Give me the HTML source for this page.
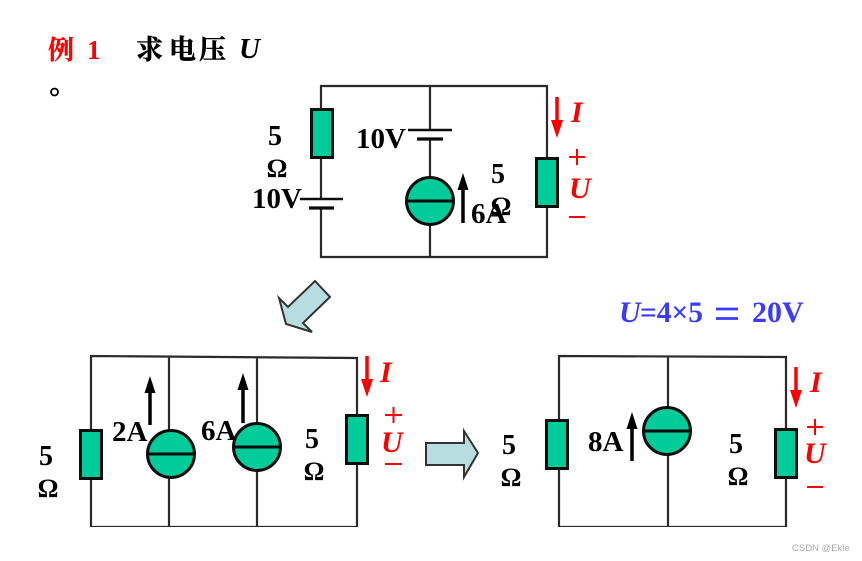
<!DOCTYPE html>
<html><head><meta charset="utf-8"><style>
html,body{margin:0;padding:0;background:#fff;width:862px;height:561px;overflow:hidden}
svg{display:block}
text{font-family:"Liberation Serif","Noto Serif CJK SC",serif;font-weight:bold;fill:#000}
.l{font-size:28px}
.o{font-size:26px}
.r{fill:#f00;font-style:italic;font-size:30px}
.w{stroke:#2a2a2a;stroke-width:2.2;fill:none}
.p{stroke:#f00;stroke-width:2;fill:none}
.g{fill:#00cc99;stroke:#111;stroke-width:3}
.b{stroke:#111;stroke-width:2.6;fill:none}
.big{fill:#b7dde0;stroke:#333;stroke-width:2}
.h{stroke:#000;stroke-width:.5px}
</style></head><body>
<svg width="862" height="561" viewBox="0 0 862 561" xmlns="http://www.w3.org/2000/svg">
<defs><filter id="s" x="0" y="0" width="100%" height="100%"><feGaussianBlur stdDeviation="0.35"/></filter></defs>
<g filter="url(#s)">
<!-- header -->
<text x="48" y="59" font-size="26" style="fill:#f00;stroke:#f00;stroke-width:.4px">例</text>
<text x="87" y="59" font-size="27" style="fill:#f00">1</text>
<text class="h" x="136" y="59" font-size="27">求</text>
<text class="h" x="169" y="59" font-size="27">电</text>
<text class="h" x="199" y="59" font-size="27">压</text>
<text x="239" y="58" font-size="29" font-style="italic">U</text>
<circle cx="54.500" cy="92" r="3.500" fill="none" stroke="#000" stroke-width="1.800"/>

<!-- top circuit -->
<path class="w" d="M321 109V86H547V158M547 207V257H321V208M321 199V158M430 86V130M430 139V177M430 225V257"/>
<rect class="g" x="311.500" y="109.500" width="21" height="48"/>
<rect class="g" x="536.500" y="158.500" width="21" height="48"/>
<path class="b" d="M300 199H343M408 130H452"/>
<path d="M309 208H334M417 139H443" stroke="#111" stroke-width="3.200" fill="none"/>
<circle class="g" cx="430" cy="201" r="23.500"/>
<path class="b" d="M406 201H454" style="stroke-width:3"/>
<path d="M463 223V186" stroke="#000" stroke-width="3.500"/>
<path d="M463 173L457.500 190H468.500Z" fill="#000"/>
<text class="l" x="275" y="145" text-anchor="middle">5</text>
<text class="o" x="277" y="177" text-anchor="middle">Ω</text>
<text x="356" y="148" style="font-size:29px">10V</text>
<text x="252" y="208" style="font-size:29px">10V</text>
<text class="l" x="498" y="183" text-anchor="middle">5</text>
<text class="o" x="501" y="215" text-anchor="middle">Ω</text>
<text x="471" y="223" style="font-size:29px">6A</text>
<path d="M557 97V124" stroke="#f00" stroke-width="3.500"/>
<path d="M557 138L551 120H563Z" fill="#f00"/>
<text class="r" x="571" y="122">I</text>
<path class="p" d="M569 157H585M577 149V165M569 217H585"/>
<text class="r" x="569" y="198">U</text>

<!-- arrow 1 -->
<polygon class="big" points="315,281 330,297 303,323 312,332 286,324 279,298 288,307"/>

<!-- bottom-left circuit -->
<path class="w" d="M91 430V356L357 358V415M357 464V527H91V479M169 357V432M169 478V527M257 358V423M257 471V527"/>
<rect class="g" x="80.500" y="430.500" width="21" height="48"/>
<rect class="g" x="346.500" y="415.500" width="21" height="48"/>
<circle class="g" cx="171" cy="454" r="23.500"/>
<path class="b" d="M146 454H195" style="stroke-width:3"/>
<circle class="g" cx="257" cy="447" r="23.500"/>
<path class="b" d="M233 447H282" style="stroke-width:3"/>
<path d="M150 425V389M243 423V386" stroke="#000" stroke-width="3.500"/>
<path d="M150 376L144.500 393H155.500ZM243 373L237.500 390H248.500Z" fill="#000"/>
<text class="l" x="46" y="465" text-anchor="middle">5</text>
<text class="o" x="48" y="497" text-anchor="middle">Ω</text>
<text x="112" y="441" style="font-size:29px">2A</text>
<text x="201" y="440" style="font-size:29px">6A</text>
<text class="l" x="312" y="448" text-anchor="middle">5</text>
<text class="o" x="314" y="480" text-anchor="middle">Ω</text>
<path d="M367 356V383" stroke="#f00" stroke-width="3.500"/>
<path d="M367 397L361 379H373Z" fill="#f00"/>
<text class="r" x="380" y="382">I</text>
<path class="p" d="M385 415H402M393.500 407V423M385 464H402"/>
<text class="r" x="381" y="452">U</text>

<!-- arrow 2 -->
<polygon class="big" points="426,443 464,443 464,431 478,453 464,477 464,465 426,465"/>

<!-- formula -->
<text x="619" y="322" font-size="30" style="fill:#3a3aff;font-style:italic">U</text>
<text x="640" y="322" font-size="30" textLength="63" lengthAdjust="spacingAndGlyphs" style="fill:#3a3aff">=4×5</text>
<path d="M716 309H738M716 318.500H738" stroke="#3a3aff" stroke-width="2.800"/>
<text x="752" y="322" font-size="30" style="fill:#3a3aff">20V</text>

<!-- right circuit -->
<path class="w" d="M559 420V356L786 357V429M786 478V527H559V469M668 357V408M668 454V527"/>
<rect class="g" x="546.500" y="420.500" width="21" height="48"/>
<rect class="g" x="775.500" y="429.500" width="21" height="48"/>
<circle class="g" cx="667" cy="431" r="23.500"/>
<path class="b" d="M643 431H691" style="stroke-width:3"/>
<path d="M632 461V425" stroke="#000" stroke-width="3.500"/>
<path d="M632 412L626.500 429H637.500Z" fill="#000"/>
<text class="l" x="509" y="454" text-anchor="middle">5</text>
<text class="o" x="511" y="486" text-anchor="middle">Ω</text>
<text x="588" y="451" style="font-size:29px">8A</text>
<text class="l" x="736" y="453" text-anchor="middle">5</text>
<text class="o" x="738" y="485" text-anchor="middle">Ω</text>
<path d="M796 367V394" stroke="#f00" stroke-width="3.500"/>
<path d="M796 408L790 390H802Z" fill="#f00"/>
<text class="r" x="810" y="392">I</text>
<path class="p" d="M807 427H823M815 419V435M807 487H823"/>
<text class="r" x="804" y="463">U</text>
</g>
<text x="792" y="551" style="font-family:'Liberation Sans',sans-serif;font-weight:normal;font-size:9.500px;fill:#aaa">CSDN @Ekle</text>
</svg>
</body></html>
